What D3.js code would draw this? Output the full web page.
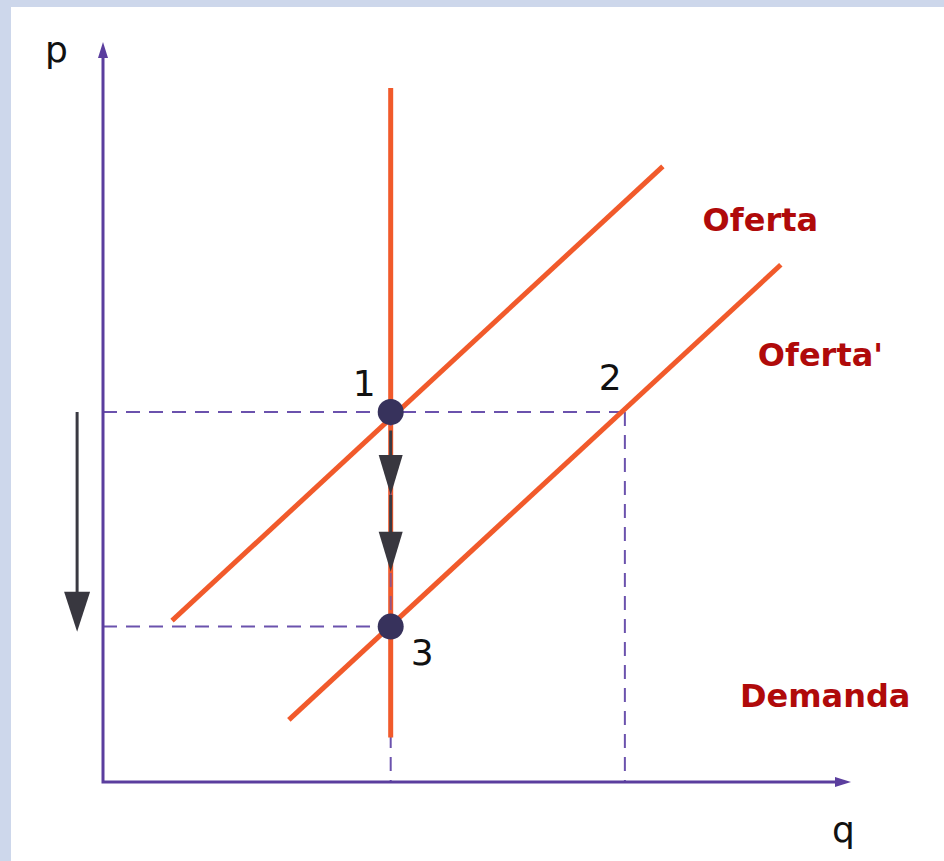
<!DOCTYPE html>
<html>
<head>
<meta charset="utf-8">
<script src="https://cdn.jsdelivr.net/npm/d3@7"></script>
<style>
  body { margin: 0; background: #cdd7eb; }
  svg { display: block; }
</style>
</head>
<body>
<div id="chart"></div>
<script>
// curves in (q, p) units
var demanda = [[5, 9.38], [5, 0.6]];
var oferta = [[1.2, 2.18], [9.73, 8.32]];
var ofertaP = [[3.23, 0.84], [11.78, 6.99]];

// equilibrium points
var puntos = [
  {name: "1", q: 5, p: 5},
  {name: "2", q: 9.07, p: 5},
  {name: "3", q: 5, p: 2.1}
];

// guide lines (dashed)
var guias = [
  [[0, 5], [9.07, 5]],
  [[9.07, 5], [9.07, 0]],
  [[0, 2.1], [5, 2.1]],
  [[5, 5], [5, 0]]
];

// arrows: [from, to]
var flechas = [
  {from: [-0.45, 5], to: [-0.45, 2.03], head: 40, w: 26},
  {from: [5, 4.75], to: [5, 3.88], head: 40, w: 24},
  {from: [5, 3.88], to: [5, 2.84], head: 40, w: 24}
];

var etiquetas = [
  {text: "Oferta", q: 10.42, p: 7.45},
  {text: "Oferta'", q: 11.38, p: 5.62},
  {text: "Demanda", q: 11.07, p: 1.02}
];

var W = 944, H = 861;
var x = d3.scaleLinear().domain([0, 13]).range([103, 851]);
var y = d3.scaleLinear().domain([0, 10]).range([782, 42]);

var svg = d3.select("#chart").append("svg")
  .attr("width", W).attr("height", H);

svg.append("rect").attr("x", 11).attr("y", 7)
  .attr("width", W - 11).attr("height", H - 7).attr("fill", "#fff");

var line = d3.line().x(function(d){ return x(d[0]); }).y(function(d){ return y(d[1]); });

// dashed guides
svg.selectAll(".guia").data(guias).enter().append("path")
  .attr("class", "guia")
  .attr("d", line)
  .attr("stroke", "#6b52ad").attr("stroke-width", 2)
  .attr("stroke-dasharray", "14,9").attr("fill", "none");

// axes
var axisColor = "#5b3e9e";
svg.append("path").attr("d", line([[0, 9.8], [0, 0], [12.8, 0]]))
  .attr("stroke", axisColor).attr("stroke-width", 3).attr("fill", "none");
// arrow heads of axes
svg.append("path")
  .attr("d", "M" + (x(0) - 5) + "," + (y(10) + 16) + "L" + x(0) + "," + y(10) + "L" + (x(0) + 5) + "," + (y(10) + 16) + "Z")
  .attr("fill", axisColor);
svg.append("path")
  .attr("d", "M" + (x(13) - 16) + "," + (y(0) - 5) + "L" + x(13) + "," + y(0) + "L" + (x(13) - 16) + "," + (y(0) + 5) + "Z")
  .attr("fill", axisColor);

svg.append("text").attr("x", 45).attr("y", 62).text("p")
  .attr("font-family", "DejaVu Sans").attr("font-size", 36).attr("fill", "#111");
svg.append("text").attr("x", 832).attr("y", 842).text("q")
  .attr("font-family", "DejaVu Sans").attr("font-size", 36).attr("fill", "#111");

// curves
[oferta, ofertaP, demanda].forEach(function(c){
  svg.append("path").attr("d", line(c))
    .attr("stroke", "#f15a2b").attr("stroke-width", 5).attr("fill", "none");
});
// dashed over demand between points
svg.append("path").attr("d", line([[5, 5], [5, 2.1]]))
  .attr("stroke", "#6b52ad").attr("stroke-width", 2)
  .attr("stroke-dasharray", "14,9").attr("fill", "none").attr("opacity", 0.7);

// arrows
flechas.forEach(function(f){
  var x0 = x(f.from[0]), y0 = y(f.from[1]), y1 = y(f.to[1]);
  svg.append("line").attr("x1", x0).attr("x2", x0)
    .attr("y1", y0).attr("y2", y1 - f.head + 4)
    .attr("stroke", "#3a3a42").attr("stroke-width", 3);
  svg.append("path")
    .attr("d", "M" + (x0 - f.w / 2) + "," + (y1 - f.head) + "L" + (x0 + f.w / 2) + "," + (y1 - f.head) + "L" + x0 + "," + y1 + "Z")
    .attr("fill", "#38373f");
});

// points
svg.selectAll(".pt").data(puntos).enter().append("circle")
  .attr("cx", function(d){ return x(d.q); })
  .attr("cy", function(d){ return y(d.p); })
  .attr("r", function(d){ return d.name == "2" ? 0 : 13; })
  .attr("fill", "#37325c");

var numPos = {"1": [-38, -16], "2": [-26, -22], "3": [20, 38]};
svg.selectAll(".num").data(puntos).enter().append("text")
  .attr("x", function(d){ return x(d.q) + numPos[d.name][0]; })
  .attr("y", function(d){ return y(d.p) + numPos[d.name][1]; })
  .text(function(d){ return d.name; })
  .attr("font-family", "DejaVu Sans").attr("font-size", 36).attr("fill", "#111");

svg.selectAll(".lab").data(etiquetas).enter().append("text")
  .attr("x", function(d){ return x(d.q); })
  .attr("y", function(d){ return y(d.p); })
  .text(function(d){ return d.text; })
  .attr("font-family", "DejaVu Sans").attr("font-weight", "bold")
  .attr("font-size", 32).attr("fill", "#b00a0a");
</script>
</body>
</html>
